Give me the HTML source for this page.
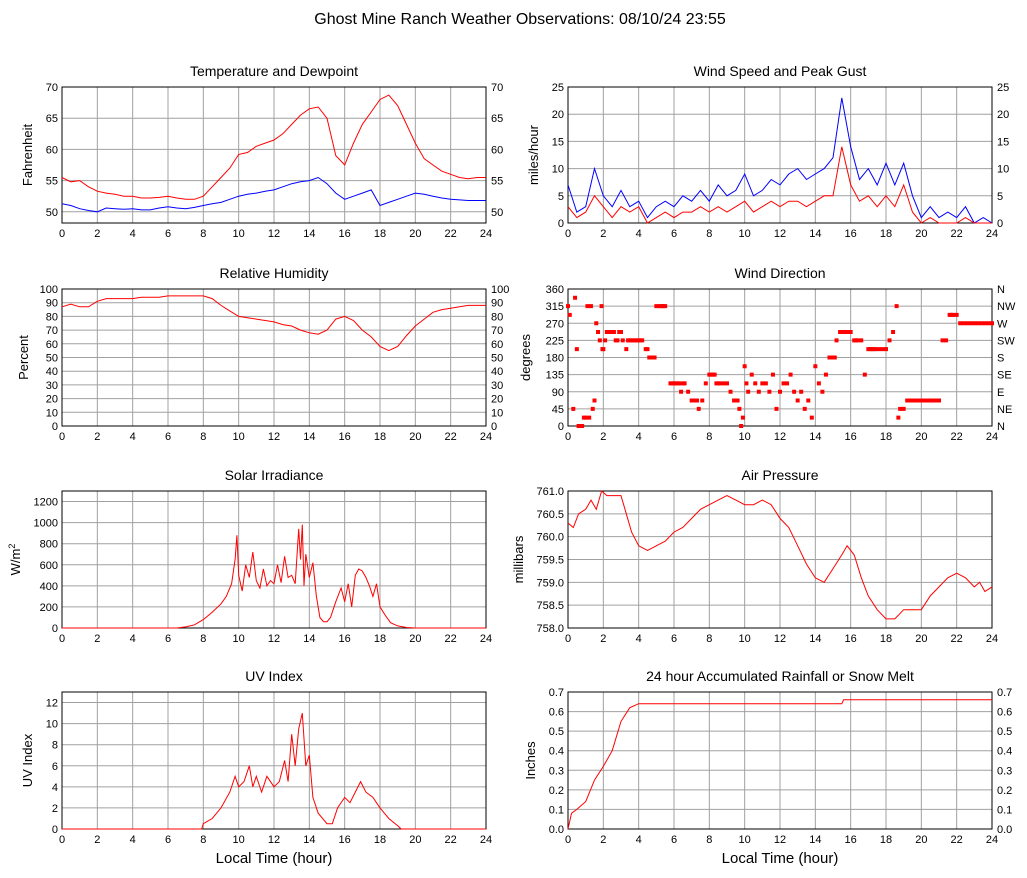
<!DOCTYPE html>
<html><head><meta charset="utf-8"><style>
html,body{margin:0;padding:0;background:#fff;}
svg{display:block;font-family:"Liberation Sans",sans-serif;}
</style></head><body>
<svg id="chart" width="1027" height="878" viewBox="0 0 1027 878" xmlns="http://www.w3.org/2000/svg">
<rect x="0" y="0" width="1027" height="878" fill="#fff"/>
<text x="520" y="24" text-anchor="middle" font-size="16">Ghost Mine Ranch Weather Observations: 08/10/24 23:55</text>
</svg>
<script>
// ---------- data ----------
const halfHours = [0,0.5,1,1.5,2,2.5,3,3.5,4,4.5,5,5.5,6,6.5,7,7.5,8,8.5,9,9.5,10,10.5,11,11.5,12,12.5,13,13.5,14,14.5,15,15.5,16,16.5,17,17.5,18,18.5,19,19.5,20,20.5,21,21.5,22,22.5,23,23.5,24];
const tempValues = [55.5,54.8,55,54,53.3,53,52.8,52.5,52.5,52.2,52.2,52.3,52.5,52.2,52,52,52.5,54,55.5,57,59.2,59.5,60.5,61,61.5,62.5,64,65.5,66.5,66.8,65,59,57.5,61,64,66,68,68.7,67,64,61,58.5,57.5,56.5,56,55.5,55.3,55.5,55.5];
const dewValues = [51.3,51,50.5,50.2,50,50.6,50.5,50.4,50.5,50.3,50.3,50.6,50.8,50.6,50.5,50.7,51,51.3,51.5,52,52.5,52.8,53,53.3,53.5,54,54.5,54.8,55,55.5,54.5,53,52,52.5,53,53.5,51,51.5,52,52.5,53,52.8,52.5,52.2,52,51.9,51.8,51.8,51.8];
const gustValues = [7,2,3,10,5,3,6,3,4,1,3,4,3,5,4,6,4,7,5,6,9,5,6,8,7,9,10,8,9,10,12,23,14,8,10,7,11,7,11,5,1,3,1,2,1,3,0,1,0];
const windValues = [3,1,2,5,3,1,3,2,3,0,1,2,1,2,2,3,2,3,2,3,4,2,3,4,3,4,4,3,4,5,5,14,7,4,5,3,5,3,7,2,0,1,0,0,0,1,0,0,0];
const rhValues = [87,89,87,87,91,93,93,93,93,94,94,94,95,95,95,95,95,93,88,84,80,79,78,77,76,74,73,70,68,67,70,78,80,77,70,65,58,55,58,66,73,78,83,85,86,87,88,88,88];
const dirTimes = [0,0.1,0.3,0.4,0.5,0.6,0.7,0.8,0.9,1.0,1.1,1.2,1.3,1.4,1.5,1.6,1.7,1.8,1.9,1.95,2.0,2.1,2.2,2.3,2.4,2.5,2.6,2.7,2.8,2.9,3.0,3.1,3.3,3.4,3.5,3.6,3.7,3.8,3.9,4.0,4.1,4.2,4.4,4.5,4.6,4.8,4.9,5.0,5.2,5.3,5.4,5.5,5.8,5.9,6.0,6.1,6.2,6.3,6.4,6.5,6.6,6.8,7.0,7.1,7.2,7.3,7.4,7.6,7.8,8.0,8.1,8.2,8.3,8.4,8.5,8.6,8.8,9.0,9.2,9.4,9.6,9.7,9.8,9.9,10.0,10.1,10.2,10.4,10.6,10.8,11.0,11.2,11.4,11.6,11.8,12.0,12.2,12.4,12.6,12.8,13.0,13.2,13.4,13.6,13.8,14.0,14.2,14.4,14.6,14.8,15.0,15.1,15.2,15.4,15.5,15.6,15.7,15.8,16.0,16.2,16.3,16.4,16.6,16.8,17.0,17.1,17.2,17.3,17.4,17.6,17.8,18.0,18.2,18.4,18.6,18.7,18.8,19.0,19.2,19.3,19.4,19.6,19.8,20.0,20.2,20.4,20.6,20.8,21.0,21.2,21.4,21.6,21.7,21.8,22.0,22.2,22.4,22.6,22.8,23.0,23.2,23.4,23.6,23.8,24.0];
const dirValues = [315,292,45,337,202,0,0,0,22,22,315,22,315,45,67,270,247,225,315,202,202,225,247,247,247,247,247,225,225,247,247,225,202,225,225,225,225,225,225,225,225,225,202,202,180,180,180,315,315,315,315,315,112,112,112,112,112,112,90,112,112,90,67,67,67,67,45,67,112,135,135,135,135,112,112,112,112,112,90,67,67,45,0,22,157,112,90,135,112,90,112,112,90,135,45,90,112,112,135,90,67,90,45,67,22,157,112,90,135,180,180,180,225,247,247,247,247,247,247,225,225,225,225,135,202,202,202,202,202,202,202,202,225,247,315,22,45,45,67,67,67,67,67,67,67,67,67,67,67,225,225,292,292,292,292,270,270,270,270,270,270,270,270,270,270,270];
const solarTimes = [0,6.5,7,7.5,8,8.5,9,9.3,9.6,9.8,9.9,10,10.2,10.4,10.6,10.8,11,11.2,11.4,11.6,11.8,12,12.2,12.4,12.6,12.8,13,13.2,13.4,13.5,13.6,13.7,13.8,14,14.2,14.4,14.6,14.8,15,15.2,15.5,15.8,16,16.2,16.4,16.6,16.8,17,17.2,17.4,17.6,17.8,18,18.3,18.6,19,19.5,20,24];
const solarValues = [0,0,10,30,80,150,230,300,420,650,880,500,350,600,480,720,450,380,560,400,450,420,600,430,680,480,500,420,940,650,980,400,700,480,620,300,100,60,60,100,250,380,250,420,200,500,560,540,480,400,300,420,200,120,50,20,5,0,0];
const pressTimes = [0,0.3,0.6,1,1.3,1.6,1.9,2.2,2.6,3,3.3,3.6,4,4.5,5,5.5,6,6.5,7,7.5,8,8.5,9,9.5,10,10.5,11,11.5,12,12.5,13,13.5,14,14.5,15,15.5,15.8,16.2,16.6,17,17.5,18,18.5,19,19.5,20,20.5,21,21.5,22,22.5,23,23.3,23.6,24];
const pressValues = [760.3,760.2,760.5,760.6,760.8,760.6,761.0,760.9,760.9,760.9,760.5,760.1,759.8,759.7,759.8,759.9,760.1,760.2,760.4,760.6,760.7,760.8,760.9,760.8,760.7,760.7,760.8,760.7,760.4,760.2,759.8,759.4,759.1,759.0,759.3,759.6,759.8,759.6,759.1,758.7,758.4,758.2,758.2,758.4,758.4,758.4,758.7,758.9,759.1,759.2,759.1,758.9,759.0,758.8,758.9];
const uvTimes = [0,7.9,8,8.5,9,9.5,9.8,10,10.3,10.6,10.8,11,11.3,11.6,12,12.3,12.6,12.8,13,13.2,13.4,13.6,13.8,14,14.2,14.5,15,15.3,15.6,16,16.3,16.6,16.9,17.2,17.6,18,18.5,19,19.2,24];
const uvValues = [0,0,0.5,1,2,3.5,5,4,4.5,6,4,5,3.5,5,4,4.5,6.5,4.5,9,6,9.5,11,6,7,3,1.5,0.5,0.5,2,3,2.5,3.5,4.5,3.5,3,2,1,0.3,0,0];
const rainTimes = [0,0.2,0.5,1,1.5,2,2.5,3,3.5,4,15.5,15.6,24];
const rainValues = [0,0.08,0.1,0.14,0.25,0.32,0.4,0.55,0.62,0.64,0.64,0.66,0.66];
const xTicks = [0,2,4,6,8,10,12,14,16,18,20,22,24];
const dirTickLabels = ['N','NE','E','SE','S','SW','W','NW','N'];

// ---------- helpers ----------
const NS = 'http://www.w3.org/2000/svg';
const svg = document.getElementById('chart');
function mk(tag, attrs, parent) {
  const e = document.createElementNS(NS, tag);
  for (const k in attrs) e.setAttribute(k, attrs[k]);
  (parent || svg).appendChild(e);
  return e;
}
function makePanel(p) {
  const g = mk('g', {});
  
  
  const sx = t => p.x0 + (t / 24) * (p.x1 - p.x0);
  const sy = v => p.y1 - (v - p.min) / (p.max - p.min) * (p.y1 - p.y0);
  p.sx = sx; p.sy = sy; p.g = g;
  const tt = mk('text', {x: (p.x0 + p.x1) / 2, y: p.y0 - 11, 'text-anchor': 'middle', 'font-size': 14}, g);
  
  
  tt.textContent = p.title;
  xTicks.forEach(t => {
    const l = mk('line', {x1: sx(t), x2: sx(t), y1: p.y0, y2: p.y1, stroke: '#a0a0a0', 'stroke-width': 1}, g);
    
    
    const lb = mk('text', {x: sx(t), y: p.y1 + 14, 'text-anchor': 'middle', 'font-size': 11}, g);
    
    
    lb.textContent = t;
  });
  p.ticks.forEach((v, i) => {
    const y = sy(v);
    const l = mk('line', {x1: p.x0, x2: p.x1, y1: y, y2: y, stroke: '#a0a0a0', 'stroke-width': 1}, g);
    
    
    const lb = mk('text', {x: p.x0 - 4, y: y + 4, 'text-anchor': 'end', 'font-size': 11}, g);
    
    
    lb.textContent = p.fmt(v);
    if (p.right) {
      const rb = mk('text', {x: p.x1 + 5, y: y + 4, 'text-anchor': 'start', 'font-size': 11}, g);
      
      
      rb.textContent = p.right(v, i);
    }
  });
  const box = mk('rect', {x: p.x0, y: p.y0, width: p.x1 - p.x0, height: p.y1 - p.y0, fill: 'none', stroke: '#000', 'stroke-width': 1}, g);
  
  
  const yc = (p.y0 + p.y1) / 2;
  const yl = mk('text', {x: p.x0 - p.lab, y: yc, 'text-anchor': 'middle', 'font-size': 13, transform: 'rotate(-90 ' + (p.x0 - p.lab) + ' ' + yc + ')'}, g);
  
  
  if (p.ylabelSup) {
    yl.textContent = p.ylabel;
    const sp = mk('tspan', {'font-size': 9, dy: -5}, yl);
    sp.textContent = p.ylabelSup;
  } else yl.textContent = p.ylabel;
  if (p.xlabel) {
    const xl = mk('text', {x: (p.x0 + p.x1) / 2, y: p.y1 + 34, 'text-anchor': 'middle', 'font-size': 15}, g);
    
    
    xl.textContent = 'Local Time (hour)';
  }
  return p;
}
function line(p, times, vals, color, name) {
  const d = times.map((t, i) => (i ? 'L' : 'M') + p.sx(t).toFixed(1) + ',' + p.sy(vals[i]).toFixed(1)).join('');
  const e = mk('path', {d: d, fill: 'none', stroke: color, 'stroke-width': 1}, p.g);
  
  
}
const L0 = 62, L1 = 486, R0 = 568, R1 = 992;
const int = v => String(v), one = v => v.toFixed(1);
function range(a, b, s) { const r = []; for (let v = a; v <= b + 1e-9; v += s) r.push(Math.round(v * 1000) / 1000); return r; }

const pT = makePanel({name: 'temperature', title: 'Temperature and Dewpoint', x0: L0, x1: L1, y0: 87, y1: 223, min: 48.2, max: 70, ticks: range(50, 70, 5), fmt: int, right: int, ylabel: 'Fahrenheit', lab: 30});
line(pT, halfHours, dewValues, '#0000ff', 'dewpoint-line');
line(pT, halfHours, tempValues, '#ff0000', 'temperature-line');

const pW = makePanel({name: 'wind-speed', title: 'Wind Speed and Peak Gust', x0: R0, x1: R1, y0: 87, y1: 223, min: 0, max: 25, ticks: range(0, 25, 5), fmt: int, right: int, ylabel: 'miles/hour', lab: 30});
line(pW, halfHours, gustValues, '#0000ff', 'peak-gust-line');
line(pW, halfHours, windValues, '#ff0000', 'wind-speed-line');

const pH = makePanel({name: 'humidity', title: 'Relative Humidity', x0: L0, x1: L1, y0: 289, y1: 426, min: 0, max: 100, ticks: range(0, 100, 10), fmt: int, right: int, ylabel: 'Percent', lab: 34});
line(pH, halfHours, rhValues, '#ff0000', 'humidity-line');

const pD = makePanel({name: 'wind-direction', title: 'Wind Direction', x0: R0, x1: R1, y0: 289, y1: 426, min: 0, max: 360, ticks: range(0, 360, 45), fmt: int, right: (v, i) => dirTickLabels[i], ylabel: 'degrees', lab: 38});
dirTimes.forEach((t, i) => {
  const r = mk('rect', {x: pD.sx(t) - 2, y: pD.sy(dirValues[i]) - 2, width: 4, height: 4, fill: '#ff0000'}, pD.g);
  
  
});

const pS = makePanel({name: 'solar', title: 'Solar Irradiance', x0: L0, x1: L1, y0: 491, y1: 628, min: 0, max: 1300, ticks: range(0, 1200, 200), fmt: int, ylabel: 'W/m', ylabelSup: '2', lab: 42});
line(pS, solarTimes, solarValues, '#ff0000', 'solar-line');

const pP = makePanel({name: 'pressure', title: 'Air Pressure', x0: R0, x1: R1, y0: 491, y1: 628, min: 758, max: 761, ticks: range(758, 761, 0.5), fmt: one, ylabel: 'millibars', lab: 45});
line(pP, pressTimes, pressValues, '#ff0000', 'pressure-line');

const pU = makePanel({name: 'uv', title: 'UV Index', x0: L0, x1: L1, y0: 692, y1: 829, min: 0, max: 13, ticks: range(0, 12, 2), fmt: int, ylabel: 'UV Index', lab: 30, xlabel: true});
line(pU, uvTimes, uvValues, '#ff0000', 'uv-line');

const pR = makePanel({name: 'rainfall', title: '24 hour Accumulated Rainfall or Snow Melt', x0: R0, x1: R1, y0: 692, y1: 829, min: 0, max: 0.7, ticks: range(0, 0.7, 0.1), fmt: one, right: one, ylabel: 'Inches', lab: 33, xlabel: true});
line(pR, rainTimes, rainValues, '#ff0000', 'rainfall-line');
</script>
</body></html>
